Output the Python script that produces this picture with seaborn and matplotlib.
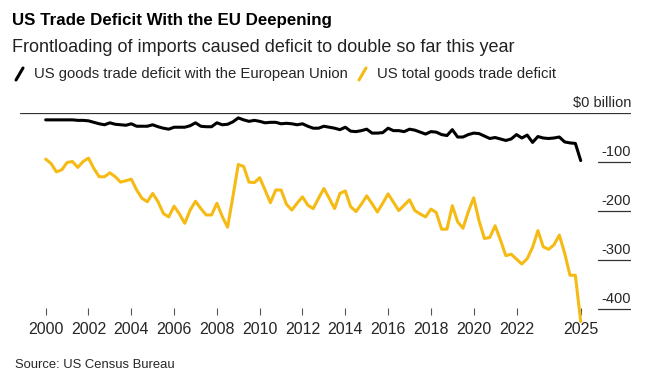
import numpy as np
import pandas as pd
import matplotlib.pyplot as plt
import matplotlib.transforms as mtransforms
from matplotlib.lines import Line2D
import seaborn as sns

# Quarterly values, 2000 Q1 .. 2025 Q1 ($ billion)
eu_deficit = [
    -14, -14, -14, -14, -14, -14, -15, -15, -16, -19,
    -22, -24, -20, -23, -24, -25, -22, -27, -27, -27,
    -24, -28, -31, -33, -29, -29, -29, -26, -20, -27,
    -28, -28, -20, -24, -23, -18, -10, -14, -17, -15,
    -17, -20, -19, -19, -22, -21, -22, -24, -22, -27,
    -31, -31, -27, -29, -31, -34, -29, -37, -38, -36,
    -33, -41, -41, -40, -31, -36, -36, -38, -33, -35,
    -39, -43, -38, -39, -44, -46, -34, -49, -49, -44,
    -41, -42, -47, -52, -50, -53, -56, -53, -44, -51,
    -45, -60, -48, -51, -52, -51, -49, -59, -61, -62,
    -97,
]
total_deficit = [
    -94, -103, -120, -116, -101, -99, -111, -99, -92, -113,
    -130, -130, -122, -130, -141, -138, -135, -157, -174, -181,
    -164, -181, -205, -212, -190, -206, -225, -198, -180, -195,
    -208, -208, -184, -211, -233, -170, -105, -109, -141, -142,
    -132, -157, -183, -157, -157, -186, -198, -184, -171, -188,
    -195, -174, -154, -174, -195, -164, -159, -191, -201, -186,
    -169, -185, -202, -184, -165, -182, -199, -188, -177, -199,
    -206, -212, -196, -203, -237, -237, -189, -222, -235, -201,
    -173, -220, -256, -254, -230, -259, -291, -288, -298, -308,
    -297, -274, -240, -273, -278, -269, -249, -286, -331, -331,
    -425,
]
years = [2000 + q / 4 for q in range(len(eu_deficit))]
x_ticks = [2000, 2002, 2004, 2006, 2008, 2010, 2012, 2014, 2016, 2018, 2020, 2022, 2025]
y_ticks = [0, -100, -200, -300, -400]
series_names = ["US goods trade deficit with the European Union", "US total goods trade deficit"]

df = pd.DataFrame({"year": years, series_names[0]: eu_deficit, series_names[1]: total_deficit})
long = df.melt(id_vars="year", var_name="series", value_name="value")

sns.set_style("white")
plt.rcParams["font.family"] = ["Liberation Sans", "DejaVu Sans"]

BLACK = "#000000"
YELLOW = "#f5bb14"

fig = plt.figure(figsize=(6.48, 3.87), dpi=100)
ax = fig.add_axes([20 / 648, 1 - 315 / 387, 611 / 648, (315 - 113) / 387])

sns.lineplot(data=long, x="year", y="value", hue="series", palette=[BLACK, YELLOW],
             linewidth=2.2, legend=False, ax=ax, clip_on=False)

ax.set_xlim(1998.8, 2027.35)
ax.set_ylim(-412, 0)
for s in ax.spines.values():
    s.set_visible(False)
ax.set_xlabel("")
ax.set_ylabel("")

# x ticks: short marks pointing up from the bottom
ax.set_xticks(x_ticks)
ax.set_xticklabels([str(t) for t in x_ticks])
ax.tick_params(axis="x", direction="in", length=5, width=0.8, color="#555555",
               labelsize=11.5, pad=5, bottom=True)
ax.set_yticks([])

# y labels on the right, sitting on short rules
trans = mtransforms.blended_transform_factory(ax.transAxes, ax.transData)
ax.plot([0, 1], [0, 0], color="#333333", lw=0.9, transform=trans, zorder=1)
for v in y_ticks:
    label = "$0 billion" if v == 0 else str(v)
    ax.text(1.0, v + 6, label, transform=trans, ha="right", va="bottom", fontsize=10.5)
    if v != 0:
        ax.plot([0.946, 1.0], [v, v], color="#333333", lw=0.9, transform=trans, zorder=1)

# headings
fig.text(12 / 648, 1 - 20 / 387, "US Trade Deficit With the EU Deepening",
         fontsize=12.2, fontweight="bold", va="center", color="black")
fig.text(12 / 648, 1 - 47 / 387, "Frontloading of imports caused deficit to double so far this year",
         fontsize=13, va="center", color="#222222")

# legend with slash markers
ly = 1 - 74 / 387
for x0, color, label in [(16, BLACK, series_names[0]), (359, YELLOW, series_names[1])]:
    fig.add_artist(Line2D([x0 / 648, (x0 + 7) / 648], [ly - 6 / 387, ly + 6 / 387],
                          color=color, lw=2.2, transform=fig.transFigure))
    fig.text((x0 + 18) / 648, ly, label, fontsize=10.7, va="center")

fig.text(15 / 648, 1 - 365 / 387, "Source: US Census Bureau", fontsize=9.4, va="center")

fig.savefig("out.png", dpi=100)
